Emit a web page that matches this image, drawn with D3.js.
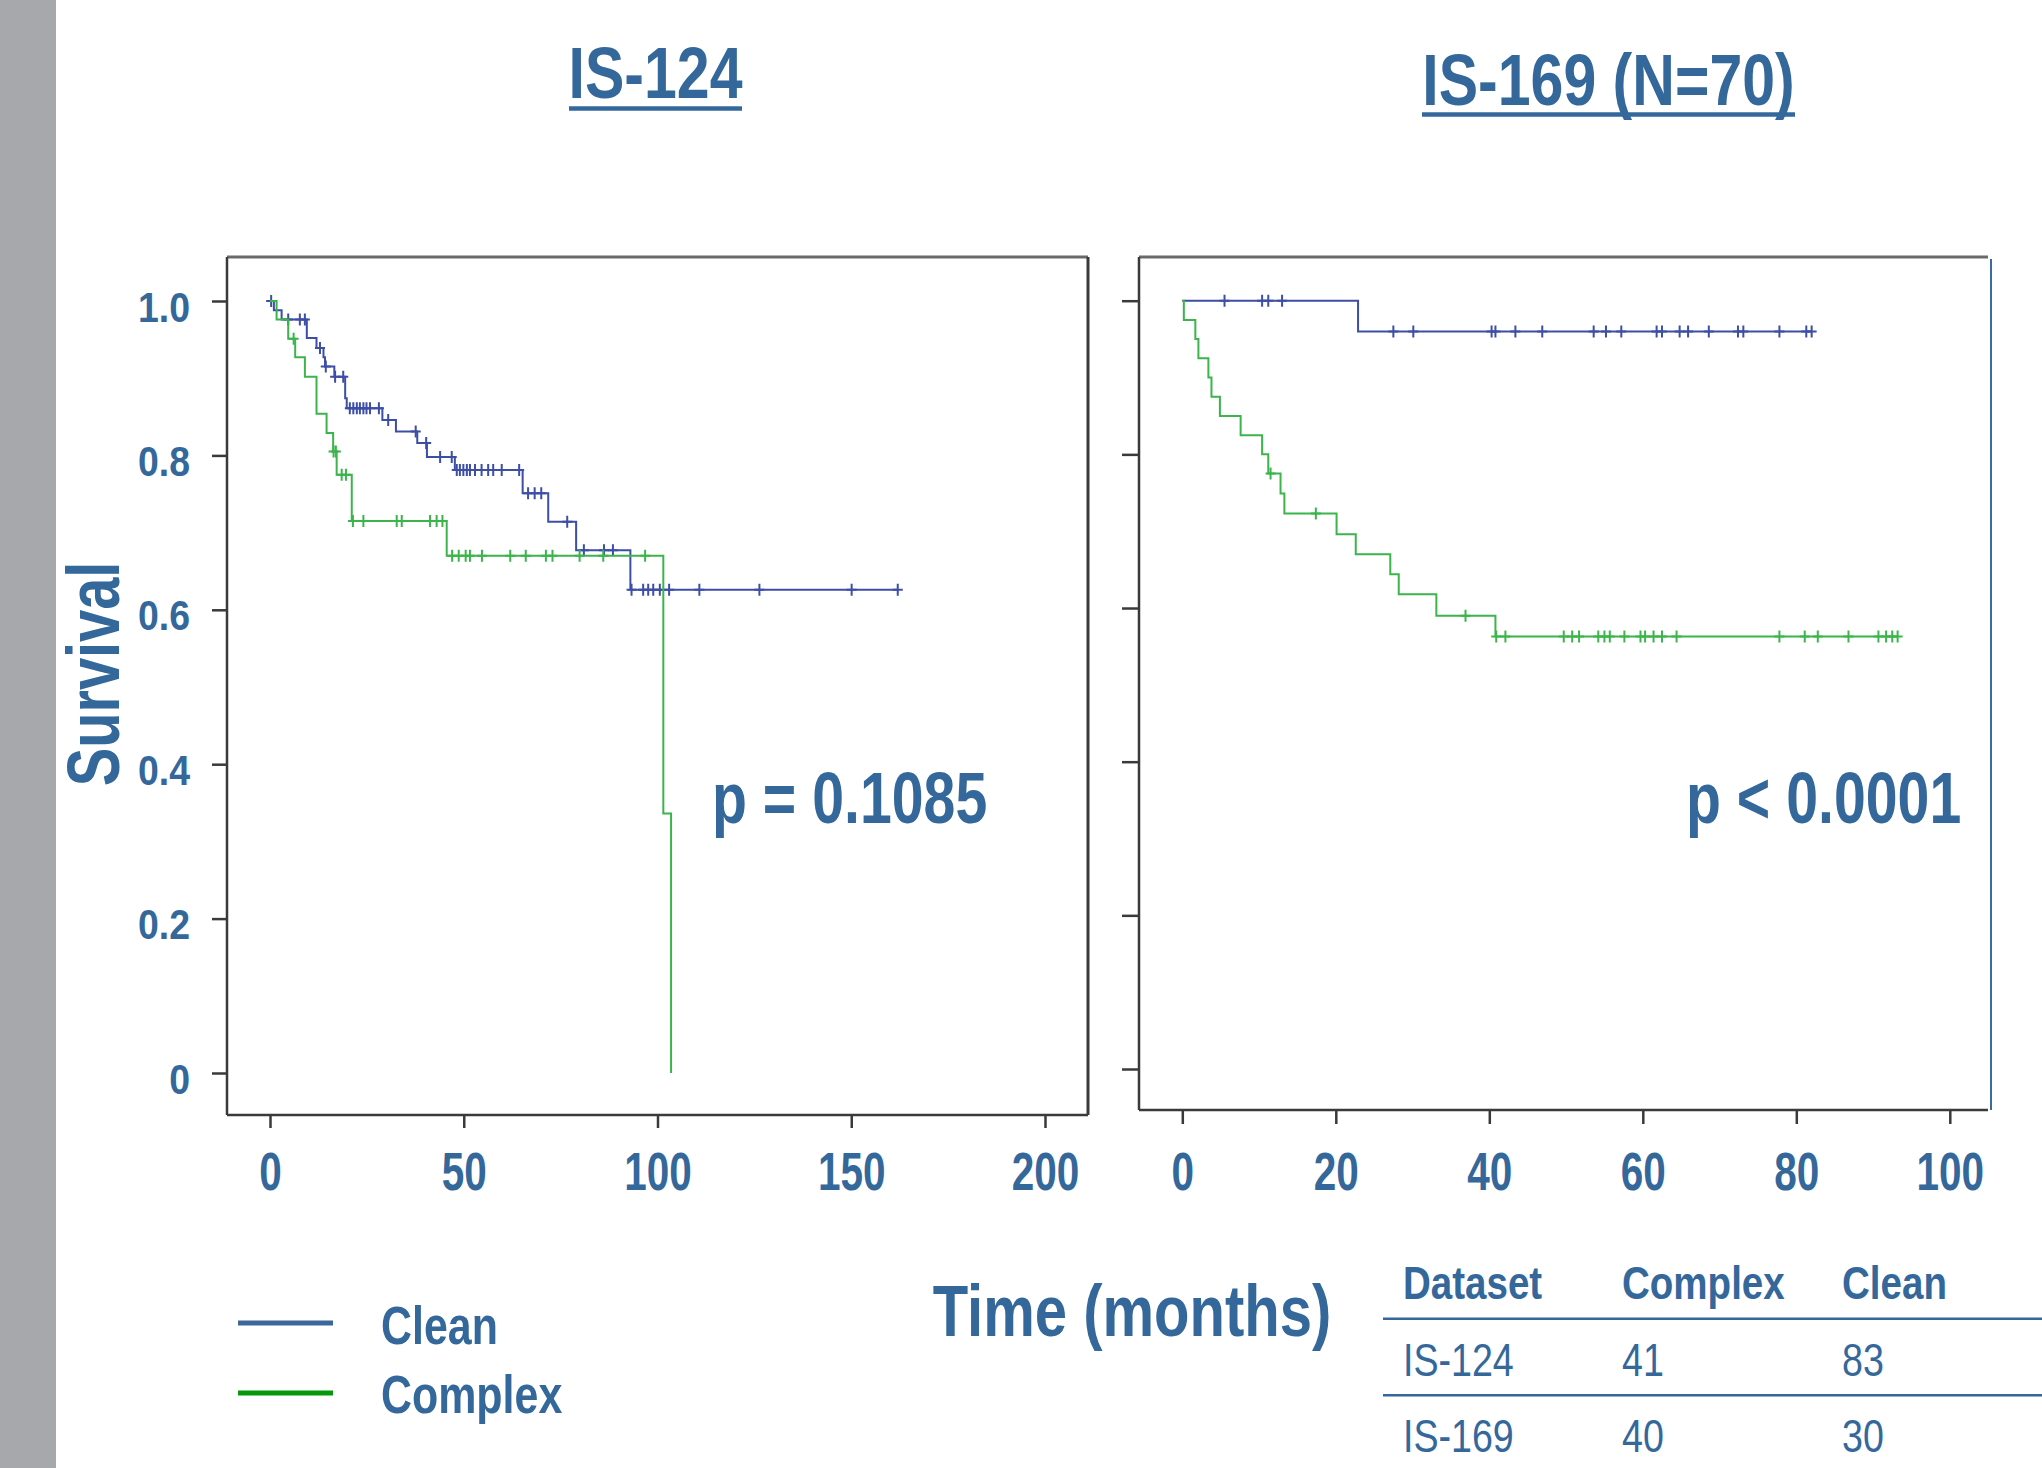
<!DOCTYPE html>
<html><head><meta charset="utf-8">
<script src="https://cdn.jsdelivr.net/npm/d3@7"></script>
<style>
body{margin:0;background:#fff;}
svg{display:block;}
text{font-family:"Liberation Sans",Arial,Helvetica,sans-serif;}
</style>
</head><body>
<svg id="c" width="2042" height="1468"></svg>
<script>
// ---------- data ----------
const titles = ["IS-124", "IS-169 (N=70)"];
const pValues = ["p = 0.1085", "p < 0.0001"];
const seriesNames = ["Clean", "Complex"];
const yAxisTitle = "Survival";
const xAxisTitle = "Time (months)";
const xTicksL = [0, 50, 100, 150, 200];
const xTicksR = [0, 20, 40, 60, 80, 100];
const yTicks = [0, 0.2, 0.4, 0.6, 0.8, 1.0];
const yTickLabels = ["0", "0.2", "0.4", "0.6", "0.8", "1.0"];

// IS-124 Clean
const is124CleanTimes = [1.0, 3.0, 9.5, 12.0, 13.8, 14.2, 16.6, 19.4, 19.8, 29.0, 32.5, 38.0, 40.5, 47.7, 65.2, 71.8, 79.0, 93.0];
const is124CleanSurv  = [0.988, 0.976, 0.952, 0.939, 0.927, 0.915, 0.902, 0.874, 0.861, 0.846, 0.831, 0.816, 0.798, 0.781, 0.751, 0.714, 0.677, 0.626];
const is124CleanCensor = [0.3, 4.7, 7.7, 9.0, 12.9, 14.4, 16.8, 18.9, 20.6, 21.5, 22.4, 23.2, 24.1, 24.9, 25.8, 28.1, 30.5, 37.6, 40.3, 43.9, 46.9, 48.2, 49.0, 49.9, 50.8, 51.6, 52.9, 54.6, 56.3, 57.6, 59.8, 64.3, 66.6, 68.3, 70.0, 76.7, 81.0, 86.2, 88.5, 93.3, 96.3, 97.6, 98.9, 100.6, 103.0, 110.8, 126.3, 150.1, 162.0];
// IS-124 Complex
const is124ComplexTimes = [1.7, 4.7, 6.5, 9.0, 12.0, 14.6, 16.3, 17.2, 21.1, 45.6, 101.5, 103.5];
const is124ComplexSurv  = [0.976, 0.951, 0.927, 0.902, 0.854, 0.829, 0.805, 0.775, 0.715, 0.670, 0.336, 0.0];
const is124ComplexCensor = [6.1, 16.4, 17.0, 18.5, 19.6, 21.4, 24.1, 32.7, 34.0, 41.3, 43.0, 44.5, 47.0, 48.7, 50.5, 51.6, 54.7, 62.0, 66.0, 71.2, 72.9, 79.9, 86.0, 96.8];
// IS-169 Clean
const is169CleanTimes = [22.9];
const is169CleanSurv  = [0.960];
const is169CleanCensor = [5.5, 10.4, 11.2, 13.0, 27.5, 30.1, 40.3, 40.8, 43.4, 46.9, 53.6, 55.2, 57.2, 61.8, 62.5, 64.8, 65.9, 68.6, 72.4, 73.1, 77.8, 81.3, 82.0];
// IS-169 Complex
const is169ComplexTimes = [0.2, 1.7, 2.1, 3.4, 3.8, 4.9, 7.6, 10.4, 11.2, 12.8, 13.3, 20.1, 22.6, 27.1, 28.2, 33.1, 40.8];
const is169ComplexSurv  = [0.975, 0.950, 0.925, 0.900, 0.875, 0.850, 0.825, 0.800, 0.775, 0.749, 0.723, 0.696, 0.670, 0.644, 0.618, 0.590, 0.563];
const is169ComplexCensor = [11.5, 17.4, 36.9, 40.9, 42.1, 49.7, 50.8, 51.7, 54.2, 55.0, 55.7, 57.6, 59.7, 60.3, 61.4, 62.5, 64.4, 77.8, 81.1, 82.8, 86.8, 90.7, 91.7, 92.5, 93.2];

// table
const tableHeader = ["Dataset", "Complex", "Clean"];
const tableDatasets = ["IS-124", "IS-169"];
const tableComplex = [41, 40];
const tableClean = [83, 30];

// ---------- style ----------
const TXT = "#34689b";
const BLUE = "#3d4ea6";
const GREEN = "#3bb54b";
const LEG_BLUE = "#3a679c";
const LEG_GREEN = "#06970a";
const FRAME = "#3a3a3a";

const svg = d3.select("#c");

svg.append("rect").attr("x", 0).attr("y", 0).attr("width", 56).attr("height", 1468).attr("fill", "#a7a8ac");

function txt(g, x, y, s, size, sx, anchor, weight) {
  return g.append("text")
    .attr("transform", `translate(${x},${y}) scale(${sx},1)`)
    .attr("text-anchor", anchor)
    .attr("font-size", size)
    .attr("font-weight", weight)
    .attr("fill", TXT)
    .text(s);
}

function kmPoints(times, surv, end) {
  const pts = [[0, 1]];
  times.forEach((t, i) => pts.push([t, surv[i]]));
  const last = times[times.length - 1];
  if (end > last) pts.push([end, surv[surv.length - 1]]);
  return pts;
}
function survAt(times, surv, t) {
  let s = 1;
  for (let i = 0; i < times.length; i++) if (times[i] <= t) s = surv[i];
  return s;
}

function panel(cfg) {
  const x = d3.scaleLinear().domain(cfg.xDomain).range(cfg.xRange);
  const y = d3.scaleLinear().domain([0, 1]).range(cfg.yRange);
  const g = svg.append("g");
  const f = cfg.frame;

  // frame
  g.append("line").attr("x1", f.l).attr("x2", f.r).attr("y1", f.t).attr("y2", f.t).attr("stroke", "#6a6a6a").attr("stroke-width", 3);
  g.append("line").attr("x1", f.l).attr("x2", f.r).attr("y1", f.b).attr("y2", f.b).attr("stroke", FRAME).attr("stroke-width", 2.5);
  g.append("line").attr("x1", f.l).attr("x2", f.l).attr("y1", f.t).attr("y2", f.b).attr("stroke", FRAME).attr("stroke-width", 2.5);
  if (cfg.blueRight) {
    g.append("line").attr("x1", f.r + 3).attr("x2", f.r + 3).attr("y1", f.t + 2).attr("y2", f.b).attr("stroke", "#3a6a9e").attr("stroke-width", 2);
  } else {
    g.append("line").attr("x1", f.r).attr("x2", f.r).attr("y1", f.t).attr("y2", f.b).attr("stroke", FRAME).attr("stroke-width", 3);
  }

  // x axis
  const gx = g.append("g").attr("transform", `translate(0,${f.b})`)
    .call(d3.axisBottom(x).tickValues(cfg.xTicks).tickSize(cfg.xTickLen).tickSizeOuter(0).tickFormat(d3.format("d")));
  gx.select(".domain").remove();
  gx.selectAll(".tick line").attr("stroke", FRAME).attr("stroke-width", 2.5);
  gx.selectAll(".tick text")
    .attr("y", 0).attr("dy", null)
    .attr("transform", `translate(0,${1190 - f.b}) scale(0.75,1)`)
    .attr("font-size", 54).attr("font-weight", "bold").attr("fill", TXT)
    .attr("font-family", '"Liberation Sans",Arial,sans-serif');

  // y axis
  const gy = g.append("g").attr("transform", `translate(${f.l},0)`)
    .call(d3.axisLeft(y).tickValues(yTicks).tickSize(cfg.yTickLen).tickSizeOuter(0)
      .tickFormat((d, i) => cfg.yLabels ? yTickLabels[i] : ""));
  gy.select(".domain").remove();
  gy.selectAll(".tick line").attr("stroke", FRAME).attr("stroke-width", 2.5);
  gy.selectAll(".tick text")
    .attr("x", 0).attr("dy", null)
    .attr("transform", `translate(${190 - f.l},20) scale(0.87,1)`)
    .attr("font-size", 43).attr("font-weight", "bold").attr("fill", TXT)
    .attr("font-family", '"Liberation Sans",Arial,sans-serif');

  const line = d3.line().x(d => x(d[0])).y(d => y(d[1])).curve(d3.curveStepAfter);

  cfg.series.forEach(s => {
    const end = Math.max(s.times[s.times.length - 1], d3.max(s.censor));
    g.append("path").datum(kmPoints(s.times, s.surv, end))
      .attr("d", line).attr("fill", "none").attr("stroke", s.color).attr("stroke-width", 2);
    g.append("g").selectAll("path").data(s.censor).join("path")
      .attr("d", t => {
        const cx = x(t), cy = y(survAt(s.times, s.surv, t));
        return `M${cx - 5},${cy}h10M${cx},${cy - 6}v12`;
      })
      .attr("stroke", s.color).attr("stroke-width", 2).attr("fill", "none");
  });

  // title with underline
  txt(svg, cfg.titleX, cfg.titleY, cfg.title, 72, 0.82, "middle", "bold");
  svg.append("line").attr("x1", cfg.ulX1).attr("x2", cfg.ulX2).attr("y1", cfg.ulY).attr("y2", cfg.ulY)
    .attr("stroke", TXT).attr("stroke-width", 4.5);

  // p value
  txt(svg, cfg.pX, 823, cfg.p, 72, 0.795, "start", "bold");
}

panel({
  xDomain: [0, 200], xRange: [270, 1045], yRange: [1073, 301],
  frame: { l: 227, r: 1088, t: 257, b: 1115 },
  xTicks: xTicksL, xTickLen: 13, yTickLen: 15, yLabels: true,
  series: [
    { times: is124CleanTimes, surv: is124CleanSurv, censor: is124CleanCensor, color: BLUE },
    { times: is124ComplexTimes, surv: is124ComplexSurv, censor: is124ComplexCensor, color: GREEN }
  ],
  title: titles[0], titleX: 655.5, titleY: 98, ulX1: 569, ulX2: 742, ulY: 108.5,
  p: pValues[0], pX: 712
});

panel({
  xDomain: [0, 100], xRange: [1182.3, 1949.8], yRange: [1069, 300.7],
  frame: { l: 1139, r: 1988, t: 257, b: 1110 },
  xTicks: xTicksR, xTickLen: 14, yTickLen: 17, yLabels: false, blueRight: true,
  series: [
    { times: is169CleanTimes, surv: is169CleanSurv, censor: is169CleanCensor, color: BLUE },
    { times: is169ComplexTimes, surv: is169ComplexSurv, censor: is169ComplexCensor, color: GREEN }
  ],
  title: titles[1], titleX: 1608.5, titleY: 105, ulX1: 1422, ulX2: 1795, ulY: 114.5,
  p: pValues[1], pX: 1686
});

// axis titles
svg.append("text")
  .attr("transform", "translate(119,674) rotate(-90) scale(0.77,1)")
  .attr("text-anchor", "middle").attr("font-size", 75).attr("font-weight", "bold").attr("fill", TXT)
  .text(yAxisTitle);
txt(svg, 1132, 1336, xAxisTitle, 72, 0.806, "middle", "bold");

// legend
const legColors = [LEG_BLUE, LEG_GREEN];
const legY = [1323, 1393];
const legTextY = [1344, 1413];
seriesNames.forEach((n, i) => {
  svg.append("line").attr("x1", 238).attr("x2", 333).attr("y1", legY[i]).attr("y2", legY[i])
    .attr("stroke", legColors[i]).attr("stroke-width", 5);
  txt(svg, 381, legTextY[i], n, 54, 0.795, "start", "bold");
});

// table
const colX = [1403, 1622, 1842];
tableHeader.forEach((h, i) => txt(svg, colX[i], 1299, h, 47, 0.82, "start", "bold"));
[1318.7, 1395.3].forEach(yy => svg.append("line").attr("x1", 1383).attr("x2", 2042).attr("y1", yy).attr("y2", yy)
  .attr("stroke", TXT).attr("stroke-width", 2.5));
const rowY = [1376, 1452];
tableDatasets.forEach((d, i) => {
  txt(svg, colX[0], rowY[i], d, 47, 0.8, "start", "normal");
  txt(svg, colX[1], rowY[i], String(tableComplex[i]), 47, 0.8, "start", "normal");
  txt(svg, colX[2], rowY[i], String(tableClean[i]), 47, 0.8, "start", "normal");
});
</script>
</body></html>
